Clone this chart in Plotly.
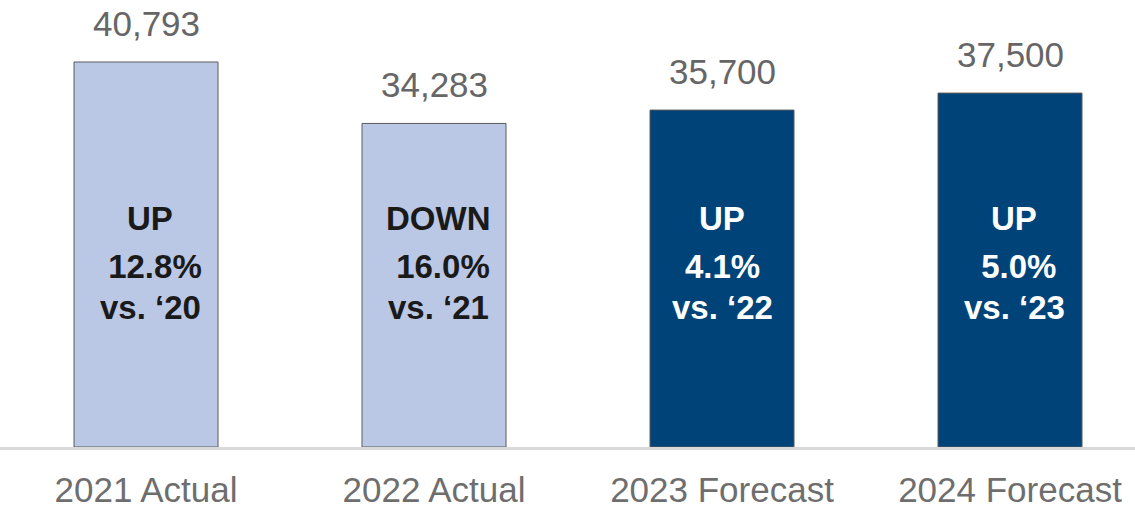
import plotly.graph_objects as go

categories = ["2021 Actual", "2022 Actual", "2023 Forecast", "2024 Forecast"]
values = [40793, 34283, 35700, 37500]
value_labels = ["40,793", "34,283", "35,700", "37,500"]
direction = ["UP", "DOWN", "UP", "UP"]
pct_change = ["\u00a012.8%", "\u00a016.0%", "4.1%", "\u00a05.0%"]
vs_year = ["vs. \u201820", "vs. \u201821", "vs. \u201822", "vs. \u201823"]
is_forecast = [False, False, True, True]

LIGHT = "#BAC8E5"
DARK = "#004379"
FONT = "Liberation Sans"

fill = [DARK if f else LIGHT for f in is_forecast]
inner_color = ["#FFFFFF" if f else "#1A1A1A" for f in is_forecast]

xs = list(range(len(categories)))

fig = go.Figure()
fig.add_trace(go.Bar(
    x=xs, y=values, width=0.5,
    marker=dict(color=fill, line=dict(color="#5A5A5A", width=1)),
    hoverinfo="skip",
))

annotations = []
for i in xs:
    annotations.append(dict(
        x=i, y=values[i], xref="x", yref="y", text=value_labels[i],
        showarrow=False, yanchor="bottom", yshift=17,
        font=dict(family=FONT, size=35, color="#666666"),
    ))
    for txt, py in [(direction[i], 0.5123), (pct_change[i], 0.4049), (vs_year[i], 0.311)]:
        annotations.append(dict(
            x=i, y=py, xref="x", yref="paper", text="<b>%s</b>" % txt,
            showarrow=False, xanchor="center", yanchor="middle",
            xshift=0 if i == 2 else 4,
            font=dict(family=FONT, size=33, color=inner_color[i]),
        ))

fig.update_layout(
    width=1135, height=508,
    margin=dict(l=0, r=0, t=0, b=61),
    plot_bgcolor="white", paper_bgcolor="white",
    showlegend=False,
    annotations=annotations,
    xaxis=dict(
        range=[-0.507, 3.434], tickvals=xs, ticktext=categories,
        showgrid=False, zeroline=False, showline=True,
        linecolor="#D9D9D9", linewidth=3, ticks="",
        ticklabelstandoff=10, automargin=False,
        tickfont=dict(family=FONT, size=35, color="#6E6E6E"),
        fixedrange=True,
    ),
    yaxis=dict(
        range=[0, 47362], visible=False, showgrid=False, zeroline=False,
        fixedrange=True, automargin=False,
    ),
)

fig.write_html(
    "out.html",
    config={"displayModeBar": False},
    post_script="document.body.style.margin='0';document.body.style.overflow='hidden';",
)
